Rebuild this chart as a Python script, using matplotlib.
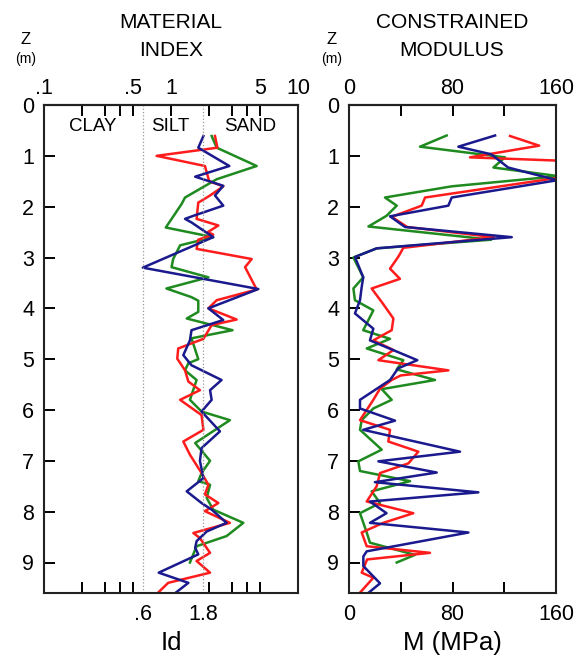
import matplotlib
matplotlib.use("Agg")
import matplotlib.pyplot as plt
from matplotlib.ticker import FixedLocator, NullFormatter

plt.rcParams['font.family'] = ['Liberation Sans', 'DejaVu Sans']

# ---- material index profiles (depth m, Id) ----
id_blue_z = [0.61, 0.84, 1.20, 1.41, 1.59, 1.78, 1.98, 2.18, 2.24, 2.31, 2.47, 2.60, 3.20, 3.62,
             4.00, 4.23, 4.43, 4.63, 4.92, 5.12, 5.41, 5.61, 5.80, 6.03, 6.42, 6.75, 7.00, 7.34,
             7.60, 7.83, 7.96, 8.22, 8.39, 8.58, 8.71, 8.84, 9.20, 9.40, 9.65]
id_blue = [1.80, 1.64, 2.88, 1.55, 2.58, 2.22, 2.58, 1.50, 1.29, 1.45, 1.80, 2.15, 0.60, 4.87,
           1.97, 2.58, 1.45, 1.41, 1.25, 1.45, 2.50, 2.03, 2.09, 1.74, 2.43, 1.74, 1.69, 1.80,
           1.33, 1.74, 2.09, 2.74, 1.91, 1.59, 1.55, 1.64, 0.80, 1.37, 1.02]

id_red_z = [0.61, 0.84, 1.00, 1.20, 1.50, 1.60, 1.78, 1.92, 2.24, 2.37, 2.50, 2.55, 2.65, 2.83,
            3.03, 3.19, 3.63, 3.84, 4.00, 4.22, 4.33, 4.60, 4.79, 4.99, 5.22, 5.44, 5.61, 5.80,
            6.10, 6.39, 6.62, 6.88, 7.24, 7.47, 7.66, 7.83, 7.99, 8.22, 8.42, 8.52, 8.81, 8.97,
            9.20, 9.40, 9.65]
id_red = [2.22, 2.32, 0.77, 1.85, 2.00, 2.58, 2.03, 1.64, 1.59, 2.36, 1.95, 2.15, 1.64, 1.59,
          4.32, 3.83, 4.73, 2.29, 1.97, 3.29, 2.09, 1.80, 1.14, 1.12, 1.29, 1.37, 1.69, 1.18,
          1.74, 1.80, 1.25, 1.41, 1.74, 1.97, 1.85, 2.36, 1.85, 2.91, 1.50, 1.69, 2.03, 1.59,
          2.03, 0.95, 0.75]

id_green_z = [0.61, 0.84, 1.20, 1.46, 1.82, 1.95, 2.41, 2.60, 2.76, 3.03, 3.19, 3.39, 3.61, 3.78,
              3.85, 4.07, 4.20, 4.43, 4.59, 5.00, 5.08, 5.22, 5.41, 5.80, 6.03, 6.20, 6.65, 7.00,
              7.24, 7.40, 7.47, 7.73, 7.96, 8.22, 8.48, 8.68, 9.00]
id_green = [2.09, 2.29, 4.73, 2.29, 1.29, 1.21, 0.91, 2.15, 1.18, 1.04, 1.01, 1.97, 0.92, 1.45,
            1.64, 1.64, 1.33, 3.05, 1.45, 1.64, 1.37, 1.29, 1.59, 1.41, 1.74, 2.91, 1.55, 2.03,
            1.74, 1.64, 2.03, 1.91, 2.15, 3.71, 2.74, 1.59, 1.41]

# ---- constrained modulus profiles (depth m, M MPa) ----
m_blue_z = [0.60, 0.82, 0.97, 1.13, 1.23, 1.48, 1.82, 1.98, 2.19, 2.40, 2.60, 2.82, 2.99, 3.39,
            3.58, 3.84, 4.10, 4.40, 4.63, 5.02, 5.18, 5.41, 5.80, 5.97, 6.21, 6.39, 6.82, 7.01,
            7.23, 7.42, 7.62, 7.80, 8.03, 8.22, 8.41, 8.78, 8.88, 9.07, 9.41, 9.65]
m_blue = [112.9, 84.5, 110.0, 118.0, 123.0, 161.0, 79.4, 76.8, 31.7, 43.3, 125.8, 21.4, 4.6, 11.0,
          9.8, 8.5, 4.6, 18.8, 16.2, 52.8, 38.0, 31.7, 8.5, 8.5, 35.6, 11.0, 85.8, 22.7,
          67.8, 20.0, 100.0, 16.2, 29.0, 16.2, 92.3, 13.7, 11.1, 11.1, 24.0, 12.5]

m_red_z = [0.61, 0.80, 1.03, 1.10, 1.42, 1.82, 1.98, 2.20, 2.40, 2.60, 2.81, 2.99, 3.22, 3.42,
           3.61, 3.90, 4.20, 4.43, 4.63, 4.82, 5.02, 5.22, 5.32, 5.41, 5.58, 5.80, 6.20, 6.39,
           6.62, 6.82, 7.05, 7.24, 7.50, 7.80, 8.03, 8.22, 8.41, 8.68, 8.81, 8.94, 9.20, 9.30,
           9.65]
m_red = [124.5, 147.0, 93.5, 168.0, 165.0, 58.8, 56.2, 33.0, 45.0, 112.0, 42.0, 38.0, 31.7, 39.4,
         17.5, 26.0, 34.3, 33.0, 18.8, 34.3, 22.7, 76.8, 40.0, 33.0, 24.0, 18.8, 8.5, 31.7,
         30.4, 53.6, 45.9, 24.0, 21.4, 13.7, 49.7, 26.5, 9.8, 13.7, 62.6, 14.0, 9.8, 18.8,
         6.5]

m_green_z = [0.60, 0.82, 1.03, 1.23, 1.40, 1.60, 1.82, 1.98, 2.18, 2.39, 2.65, 2.82, 3.00, 3.39,
             3.61, 3.84, 4.04, 4.43, 4.60, 4.79, 5.02, 5.20, 5.41, 5.59, 5.80, 5.97, 6.20, 6.39,
             6.78, 7.01, 7.20, 7.40, 7.60, 7.83, 8.03, 8.41, 8.61, 8.85, 9.00]
m_green = [75.5, 54.9, 120.6, 111.6, 162.0, 79.4, 27.8, 36.9, 29.0, 15.0, 110.0, 21.4, 3.4, 11.0,
           3.4, 4.6, 18.8, 11.0, 31.7, 13.7, 42.0, 36.9, 66.5, 25.3, 33.0, 18.8, 9.8, 8.5,
           25.3, 7.2, 8.5, 47.2, 17.5, 24.0, 8.5, 13.7, 16.2, 51.0, 36.9]

BLUE = '#1a1a8e'
RED = '#ff1c1c'
GREEN = '#1f8a1f'
LW = 1.8

fig = plt.figure(figsize=(5.84, 6.63), dpi=100)
ax1 = fig.add_axes([44 / 584, 1 - 593 / 663, 254 / 584, 488 / 663])
ax2 = fig.add_axes([349 / 584, 1 - 593 / 663, 207 / 584, 488 / 663])

for ax in (ax1, ax2):
    ax.set_ylim(9.6, 0)
    ax.set_yticks(range(10))
    ax.tick_params(axis='y', which='both', direction='in', length=8, width=1.4,
                   labelsize=15.5, pad=7, right=False)
    for sp in ax.spines.values():
        sp.set_linewidth(1.5)
        sp.set_color('#222222')

# material index panel
ax1.set_xscale('log')
ax1.set_xlim(0.1, 10)
ax1.plot(id_green, id_green_z, color=GREEN, lw=LW)
ax1.plot(id_red, id_red_z, color=RED, lw=LW)
ax1.plot(id_blue, id_blue_z, color=BLUE, lw=LW)
for xv in (0.6, 1.8):
    ax1.axvline(xv, color='#999999', lw=0.9, ls=':')

ax1.xaxis.set_major_locator(FixedLocator([0.6, 1.8]))
ax1.set_xticklabels(['.6', '1.8'])
ax1.xaxis.set_minor_locator(FixedLocator([0.2, 0.3, 0.4, 0.5, 2, 3, 4, 5]))
ax1.xaxis.set_minor_formatter(NullFormatter())
ax1.tick_params(axis='x', which='major', length=0, labelsize=15.5, pad=8)
ax1.tick_params(axis='x', which='minor', direction='in', length=8, width=1.4)

top1 = ax1.secondary_xaxis('top')
top1.set_xticks([0.1, 0.5, 1, 5, 10])
top1.set_xticklabels(['.1', '.5', '1', '5', '10'])
top1.xaxis.set_minor_locator(FixedLocator([0.2, 0.3, 0.4, 2, 3, 4]))
top1.xaxis.set_minor_formatter(NullFormatter())
top1.tick_params(axis='x', which='both', direction='in', length=8, width=1.4,
                 labelsize=15.5, pad=4)
top1.spines['top'].set_linewidth(1.5)

for label, xf in (('CLAY', 0.193), ('SILT', 0.496), ('SAND', 0.811)):
    ax1.text(xf, 0.955, label, transform=ax1.transAxes, ha='center', va='center',
             fontsize=13.5)
ax1.set_xlabel('Id', fontsize=18.5, labelpad=4)

# constrained modulus panel
ax2.set_xlim(0, 160)
ax2.plot(m_green, m_green_z, color=GREEN, lw=LW)
ax2.plot(m_red, m_red_z, color=RED, lw=LW)
ax2.plot(m_blue, m_blue_z, color=BLUE, lw=LW)
ax2.set_xticks([0, 80, 160])
ax2.xaxis.set_minor_locator(FixedLocator([40, 120]))
ax2.tick_params(axis='x', which='both', direction='in', length=8, width=1.4,
                labelsize=15.5, pad=8)
top2 = ax2.secondary_xaxis('top')
top2.set_xticks([0, 80, 160])
top2.xaxis.set_minor_locator(FixedLocator([40, 120]))
top2.tick_params(axis='x', which='both', direction='in', length=8, width=1.4,
                 labelsize=15.5, pad=4)
top2.spines['top'].set_linewidth(1.5)
ax2.set_xlabel('M (MPa)', fontsize=18.5, labelpad=4)

# headings
H = 663
fig.text(171 / 584, 1 - 22 / H, 'MATERIAL', ha='center', va='center', fontsize=15)
fig.text(171 / 584, 1 - 50 / H, 'INDEX', ha='center', va='center', fontsize=15)
fig.text(452 / 584, 1 - 22 / H, 'CONSTRAINED', ha='center', va='center', fontsize=15)
fig.text(452 / 584, 1 - 50 / H, 'MODULUS', ha='center', va='center', fontsize=15)
for xz in (26, 332):
    fig.text(xz / 584, 1 - 39 / H, 'Z', ha='center', va='center', fontsize=12)
    fig.text(xz / 584, 1 - 59 / H, '(m)', ha='center', va='center', fontsize=10)

fig.savefig('out.png', dpi=100)
